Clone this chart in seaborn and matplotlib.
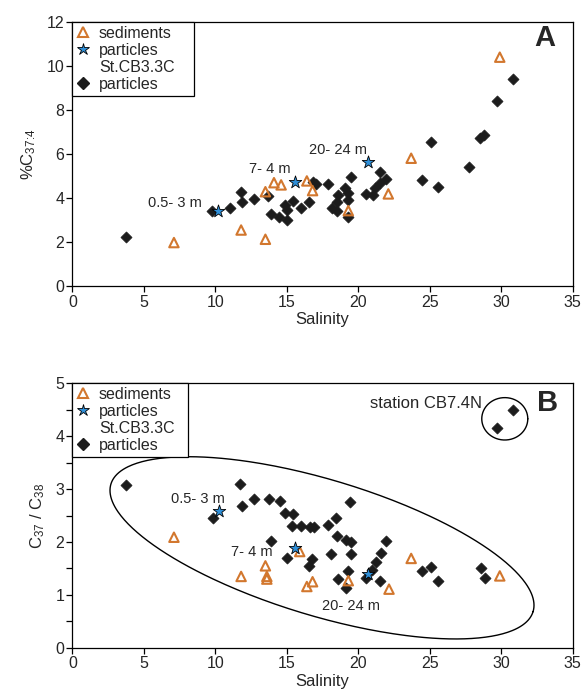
import numpy as np
import pandas as pd
import matplotlib
matplotlib.use("Agg")
import matplotlib.pyplot as plt
import seaborn as sns
from matplotlib.lines import Line2D
from matplotlib.ticker import MultipleLocator

# ---- panel A : %C37:4 vs salinity ----
a_sed_sal = [7.1, 11.8, 13.5, 13.5, 14.1, 14.6, 16.4, 16.8, 19.3, 22.1, 23.7, 29.9]
a_sed_val = [1.98, 2.55, 2.13, 4.29, 4.70, 4.60, 4.78, 4.34, 3.43, 4.19, 5.81, 10.4]

a_part_sal = [10.2, 15.6, 20.7]
a_part_val = [3.41, 4.75, 5.66]

a_st_sal = [3.74, 9.78, 11.02, 11.79, 11.84, 12.72, 13.70, 13.89, 14.47, 14.87,
            14.99, 14.99, 15.41, 15.99, 16.57, 16.85, 17.04, 17.90, 18.14, 18.49,
            18.49, 18.60, 19.07, 19.30, 19.30, 19.30, 19.47, 20.54, 21.01, 21.17,
            21.52, 21.94, 21.52, 24.48, 25.07, 25.56, 27.77, 28.52, 28.80, 29.68,
            30.85]
a_st_val = [2.25, 3.43, 3.57, 4.26, 3.82, 3.97, 4.10, 3.28, 3.13, 3.69,
            3.46, 3.00, 3.88, 3.57, 3.82, 4.75, 4.64, 4.63, 3.54, 3.43,
            3.84, 4.14, 4.44, 4.22, 3.91, 3.16, 4.97, 4.19, 4.14, 4.47,
            4.70, 4.85, 5.17, 4.82, 6.56, 4.52, 5.43, 6.72, 6.87, 8.41,
            9.41]

# ---- panel B : C37/C38 vs salinity ----
b_sed_sal = [7.1, 11.8, 13.5, 13.6, 13.6, 15.9, 16.8, 16.4, 19.3, 22.15, 23.7, 29.9]
b_sed_val = [2.09, 1.35, 1.55, 1.35, 1.30, 1.82, 1.25, 1.16, 1.27, 1.11, 1.69, 1.36]

b_part_sal = [10.25, 15.57, 20.7]
b_part_val = [2.58, 1.88, 1.39]

b_st_sal = [3.74, 11.72, 12.72, 13.75, 14.50, 11.84, 9.81, 14.87, 15.45, 15.38,
            16.00, 16.60, 16.90, 17.90, 18.44, 19.42, 18.49, 19.12, 19.48, 13.89,
            18.12, 19.48, 15.01, 16.74, 16.57, 19.30, 18.60, 19.16, 21.94, 21.59,
            21.22, 20.94, 20.54, 21.52, 24.48, 25.11, 25.56, 28.57, 28.89, 29.68,
            30.85]
b_st_val = [3.08, 3.09, 2.82, 2.81, 2.78, 2.68, 2.45, 2.54, 2.52, 2.30,
            2.31, 2.28, 2.28, 2.33, 2.45, 2.76, 2.12, 2.04, 2.00, 2.02,
            1.77, 1.77, 1.70, 1.67, 1.55, 1.45, 1.31, 1.13, 2.02, 1.79,
            1.63, 1.47, 1.33, 1.27, 1.46, 1.52, 1.26, 1.50, 1.32, 4.16,
            4.49]

depth_labels = ["0.5- 3 m", "7- 4 m", "20- 24 m"]

SED_COLOR = "#D2772E"
STAR_COLOR = "#2F8FD8"
DIA_COLOR = "#1c1c1c"

sns.set_style("ticks")
plt.rcParams["font.family"] = ["Liberation Sans", "DejaVu Sans"]
plt.rcParams["mathtext.fontset"] = "custom"
plt.rcParams["mathtext.rm"] = "Liberation Sans"
plt.rcParams["mathtext.it"] = "Liberation Sans:italic"


def draw_points(ax, sed_x, sed_y, part_x, part_y, st_x, st_y):
    sns.scatterplot(x=st_x, y=st_y, ax=ax, marker="D", s=32,
                    color=DIA_COLOR, edgecolor=DIA_COLOR, linewidth=0.5, zorder=3)
    sns.scatterplot(x=sed_x, y=sed_y, ax=ax, marker="^", s=46,
                    facecolor="none", edgecolor=SED_COLOR, linewidth=1.5, zorder=4)
    sns.scatterplot(x=part_x, y=part_y, ax=ax, marker="*", s=90,
                    color=STAR_COLOR, edgecolor="black", linewidth=0.6, zorder=5)


def style_axes(ax, ylabel, ymax, ystep):
    ax.set_xlim(0, 35)
    ax.set_ylim(0, ymax)
    ax.xaxis.set_major_locator(MultipleLocator(5))
    ax.yaxis.set_major_locator(MultipleLocator(ystep))
    for sp in ax.spines.values():
        sp.set_visible(True)
        sp.set_color("black")
        sp.set_linewidth(0.9)
    ax.tick_params(axis="both", which="both", direction="out", length=4,
                   width=0.9, color="black", labelsize=11.5, pad=2)
    ax.set_xlabel("Salinity", fontsize=12, labelpad=2)
    ax.set_ylabel(ylabel, fontsize=12, labelpad=6)


def add_legend(ax, width):
    handles = [
        Line2D([], [], ls="none", marker="^", ms=6.5, mfc="none",
               mec=SED_COLOR, mew=1.5),
        Line2D([], [], ls="none", marker="*", ms=9, mfc=STAR_COLOR,
               mec="black", mew=0.6),
        Line2D([], [], ls="none", marker=None),
        Line2D([], [], ls="none", marker="D", ms=6, mfc=DIA_COLOR,
               mec=DIA_COLOR),
    ]
    labels = ["sediments", "particles", "St.CB3.3C", "particles"]
    leg = ax.legend(handles, labels, loc="upper left",
                    bbox_to_anchor=(0, 1, width, 0), mode="expand",
                    borderaxespad=0, frameon=True, fancybox=False,
                    framealpha=1, edgecolor="black", fontsize=11.5,
                    handlelength=0.8, handletextpad=0.6, labelspacing=0.12,
                    borderpad=0.25)
    leg.get_frame().set_linewidth(0.9)


fig = plt.figure(figsize=(5.85, 6.99), dpi=100)
ax_a = fig.add_axes([0.1239, 0.5906, 0.855, 0.378])
ax_b = fig.add_axes([0.1239, 0.0730, 0.855, 0.379])

# Panel A
draw_points(ax_a, a_sed_sal, a_sed_val, a_part_sal, a_part_val, a_st_sal, a_st_val)
style_axes(ax_a, r"%C$\mathregular{_{37\!:\!4}}$", 12, 2)
add_legend(ax_a, 0.242)
for (lx, ly), txt in zip([(7.17, 3.76), (13.79, 5.31), (18.55, 6.19)], depth_labels):
    ax_a.text(lx, ly, txt, fontsize=10.5, ha="center", va="center")
ax_a.text(0.945, 0.938, "A", transform=ax_a.transAxes, fontsize=21,
          fontweight="bold", ha="center", va="center")

# Panel B
draw_points(ax_b, b_sed_sal, b_sed_val, b_part_sal, b_part_val, b_st_sal, b_st_val)
style_axes(ax_b, r"C$\mathregular{_{37}}$ / C$\mathregular{_{38}}$", 5, 1)
ax_b.yaxis.set_minor_locator(MultipleLocator(0.5))
add_legend(ax_b, 0.2315)
for (lx, ly), txt in zip([(8.76, 2.82), (12.54, 1.82), (19.49, 0.79)], depth_labels):
    ax_b.text(lx, ly, txt, fontsize=10.5, ha="center", va="center")
ax_b.text(28.64, 4.62, "station CB7.4N", fontsize=12, ha="right", va="center")
ax_b.text(0.949, 0.925, "B", transform=ax_b.transAxes, fontsize=21,
          fontweight="bold", ha="center", va="center")

# big ellipse around St.CB3.3C cloud and small circle round station CB7.4N
t = np.linspace(0, 2 * np.pi, 400)
cx, cy = 17.46, 1.89
ax_b.plot(cx + 14.77 * np.cos(t) + 1.385 * np.sin(t),
          cy - 1.204 * np.cos(t) + 1.228 * np.sin(t),
          color="black", lw=1.0, zorder=2)
ax_b.plot(30.25 + 1.61 * np.cos(t), 4.325 + 0.40 * np.sin(t),
          color="black", lw=1.0, zorder=2)

fig.savefig("out.png", dpi=100)
